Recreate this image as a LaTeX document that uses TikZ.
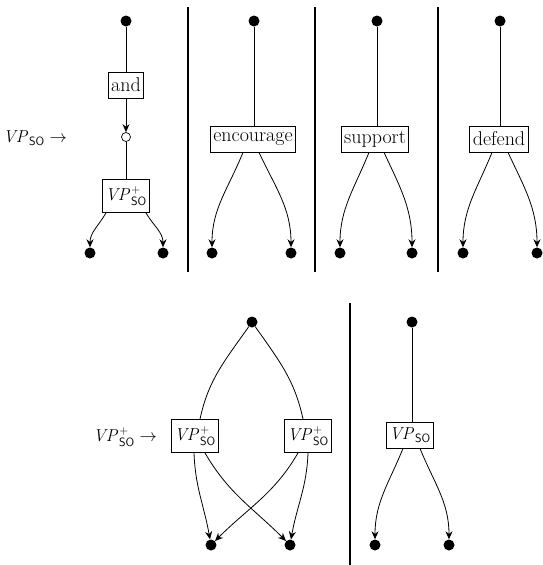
\documentclass[tikz,border=0pt]{standalone}
\usetikzlibrary{arrows.meta}
\begin{document}
\begin{tikzpicture}[x=1pt,y=-1pt,
  font=\fontsize{20}{22}\selectfont,
  dot/.style={circle,fill=black,inner sep=0pt,minimum size=11pt},
  hollow/.style={circle,draw,fill=white,inner sep=0pt,minimum size=9pt,line width=0.7pt},
  word/.style={draw,line width=0.8pt,inner sep=3pt,minimum height=26pt},
  cat/.style={word,font=\fontsize{18}{20}\selectfont},
  catplus/.style={cat,minimum height=33pt},
  link/.style={line width=0.8pt},
  arr/.style={link,-{Stealth[length=8pt,width=7pt]}},
  divider/.style={line width=2.2pt},
  lbl/.style={anchor=east,inner sep=0pt,font=\fontsize{18}{20}\selectfont}]
\useasboundingbox (0,0) rectangle (542,565);

% ---- top row: coordination ----
\node[dot] (t1) at (126,21) {};
\node[word] (and) at (126,85) {and};
\node[hollow] (c1) at (126,137) {};
\node[catplus] (vpp1) at (126,196) {$\mathit{VP}^{+}_{\mathsf{SO}}$};
\node[dot] (l1) at (90,253) {};
\node[dot] (r1) at (163,253) {};
\node[lbl] (rule1) at (67,138) {$\mathit{VP}_{\mathsf{SO}}\rightarrow$};
\draw[link] (t1) -- (and);
\draw[arr] (and) -- (c1);
\draw[link] (c1) -- (vpp1);
\draw[arr] ([xshift=-20pt]vpp1.south) to[out=-120,in=90] (l1);
\draw[arr] ([xshift=20pt]vpp1.south) to[out=-60,in=90] (r1);

% ---- verb: encourage ----
\node[dot] (t2) at (254,21) {};
\node[word] (enc) at (253,139) {encourage};
\node[dot] (l2) at (212,253) {};
\node[dot] (r2) at (291,253) {};
\draw[link] (t2) -- (t2 |- enc.north);
\draw[arr] ([xshift=-10pt]enc.south) to[out=-112,in=90] (l2);
\draw[arr] ([xshift=6pt]enc.south) to[out=-65,in=90] (r2);

% ---- verb: support ----
\node[dot] (t3) at (377,21) {};
\node[word] (sup) at (375,139) {support};
\node[dot] (l3) at (340,253) {};
\node[dot] (r3) at (412,253) {};
\draw[link] (t3) -- (t3 |- sup.north);
\draw[arr] ([xshift=-6pt]sup.south) to[out=-112,in=90] (l3);
\draw[arr] ([xshift=9pt]sup.south) to[out=-65,in=90] (r3);

% ---- verb: defend ----
\node[dot] (t4) at (500,21) {};
\node[word] (def) at (499,139) {defend};
\node[dot] (l4) at (463,253) {};
\node[dot] (r4) at (537,253) {};
\draw[link] (t4) -- (t4 |- def.north);
\draw[arr] ([xshift=-7pt]def.south) to[out=-112,in=90] (l4);
\draw[arr] ([xshift=9pt]def.south) to[out=-65,in=90] (r4);

% ---- bottom row: repetition ----
\node[dot] (tb) at (252,322) {};
\node[catplus] (pl) at (195,436) {$\mathit{VP}^{+}_{\mathsf{SO}}$};
\node[catplus] (pr) at (308,436) {$\mathit{VP}^{+}_{\mathsf{SO}}$};
\node[dot] (bl) at (211,545) {};
\node[dot] (br) at (290,545) {};
\node[lbl] (rule2) at (157,437) {$\mathit{VP}^{+}_{\mathsf{SO}}\rightarrow$};
\draw[link] (tb) to[out=-125,in=78] ([xshift=5pt]pl.north);
\draw[link] (tb) to[out=-55,in=102] ([xshift=-5pt]pr.north);
\draw[arr] ([xshift=-1pt]pl.south) to[out=-88,in=100] (bl);
\draw[arr] ([xshift=10pt]pl.south) to[out=-60,in=135] (br);
\draw[arr] ([xshift=-10pt]pr.south) to[out=-120,in=45] (bl);
\draw[arr] ([xshift=0pt]pr.south) to[out=-92,in=80] (br);

% ---- base case ----
\node[dot] (t5) at (412,322) {};
\node[cat] (vp) at (410,435) {$\mathit{VP}_{\mathsf{SO}}$};
\node[dot] (l5) at (375,545) {};
\node[dot] (r5) at (449,545) {};
\draw[link] (t5) -- (t5 |- vp.north);
\draw[arr] ([xshift=-7pt]vp.south) to[out=-112,in=90] (l5);
\draw[arr] ([xshift=10pt]vp.south) to[out=-68,in=90] (r5);

% ---- separators ----
\draw[divider] (188,7) -- (188,272);
\draw[divider] (315,7) -- (315,272);
\draw[divider] (438,7) -- (438,272);
\draw[divider] (350,303) -- (350,565);
\end{tikzpicture}
\end{document}
